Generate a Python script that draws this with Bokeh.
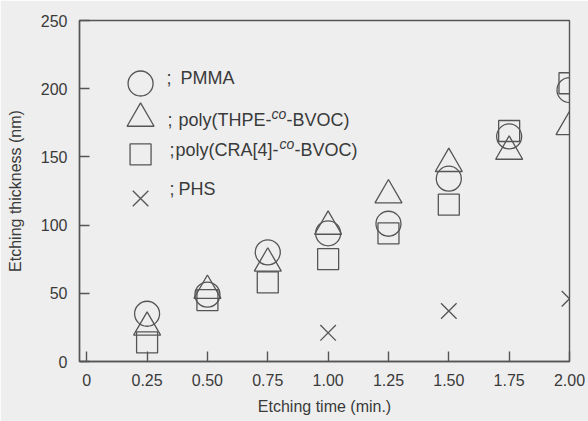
from bokeh.plotting import figure
from bokeh.models import FixedTicker, Label
from bokeh.embed import file_html
from bokeh.resources import INLINE

# ---- data ----
time_pts = [0.25, 0.50, 0.75, 1.00, 1.25, 1.50, 1.75, 2.00]
pmma = [35, 49, 80, 94, 101, 134, 165, 199]
thpe = [25, 52, 72, 99, 122, 145, 154, 172]
cra4 = [14, 45, 58, 75, 94, 115, 169, 204]
phs_time = [1.00, 1.50, 2.00]
phs = [21, 37, 46]

x_ticks = [0, 0.25, 0.5, 0.75, 1.0, 1.25, 1.5, 1.75, 2.0]
x_tick_labels = ["0", "0.25", "0.50", "0.75", "1.00", "1.25", "1.50", "1.75", "2.00"]
y_ticks = [0, 50, 100, 150, 200, 250]

BG = "#eeeeee"
INK = "#555555"
TXT = "#3a3a3a"
FONT = "Liberation Sans"

p = figure(width=588, height=421, output_backend="svg", toolbar_location=None,
           x_range=(-0.03, 2.0), y_range=(0, 250),
           min_border_left=79, min_border_right=19, min_border_top=20, min_border_bottom=60,
           background_fill_color=BG, border_fill_color=BG)
p.grid.visible = False
p.outline_line_color = INK
p.outline_line_width = 1.4

for ax in (p.xaxis[0], p.yaxis[0]):
    ax.axis_line_color = INK
    ax.axis_line_width = 1.4
    ax.major_tick_line_color = INK
    ax.major_tick_line_width = 1.4
    ax.major_tick_in = 10
    ax.major_tick_out = 0
    ax.minor_tick_line_color = None
    ax.major_label_text_font = FONT
    ax.major_label_text_font_size = "16px"
    ax.major_label_text_color = TXT
    ax.axis_label_text_font = FONT
    ax.axis_label_text_font_style = "normal"
    ax.axis_label_text_font_size = "16px"
    ax.axis_label_text_color = TXT

p.xaxis.ticker = FixedTicker(ticks=x_ticks)
p.xaxis.major_label_overrides = {t: l for t, l in zip(x_ticks, x_tick_labels)}
p.xaxis.major_label_standoff = 12
p.xaxis.axis_label = "Etching time (min.)"
p.xaxis.axis_label_standoff = 9
p.yaxis.ticker = FixedTicker(ticks=y_ticks)
p.yaxis.major_label_standoff = 12
p.yaxis.axis_label = "Etching thickness (nm)"
p.yaxis.axis_label_standoff = 14

common = dict(fill_color=None, line_color=INK, line_width=1.3)
p.scatter(time_pts, pmma, marker="circle", size=25, **common)
p.scatter(time_pts, thpe, marker="triangle", size=27, **common)
p.scatter(time_pts, cra4, marker="square", size=21, **common)
p.scatter(phs_time, phs, marker="x", size=22, **common)

# ---- legend (drawn manually for the superscript "co") ----
leg_x = 0.223
leg_marker_y = [203.8, 178.2, 151.8, 119.5]
leg_text_y = [207.5, 177.4, 154.7, 126.8]
leg_markers = ["circle", "triangle", "square", "x"]
leg_sizes = [25, 27, 21, 22]
for m, yy, s in zip(leg_markers, leg_marker_y, leg_sizes):
    p.scatter([leg_x], [yy], marker=m, size=s, **common)

def lab(y, xoff, text, size="18px", style="normal", dy=0):
    p.add_layout(Label(x=leg_x, y=y, x_offset=xoff, y_offset=dy, text=text,
                       text_font=FONT, text_font_size=size, text_font_style=style,
                       text_color=TXT, text_baseline="middle"))

lab(leg_text_y[0], 26, ";")
lab(leg_text_y[0], 40, "PMMA")
lab(leg_text_y[1], 27, ";")
lab(leg_text_y[1], 38, "poly(THPE-")
lab(leg_text_y[1], 131, "co", size="14px", style="italic", dy=6)
lab(leg_text_y[1], 146, "-BVOC)")
lab(leg_text_y[2], 29, ";")
lab(leg_text_y[2], 35, "poly(CRA[4]-")
lab(leg_text_y[2], 139, "co", size="14px", style="italic", dy=6)
lab(leg_text_y[2], 154, "-BVOC)")
lab(leg_text_y[3], 29, ";")
lab(leg_text_y[3], 38, "PHS")

open("out.html", "w").write(file_html(p, INLINE))
